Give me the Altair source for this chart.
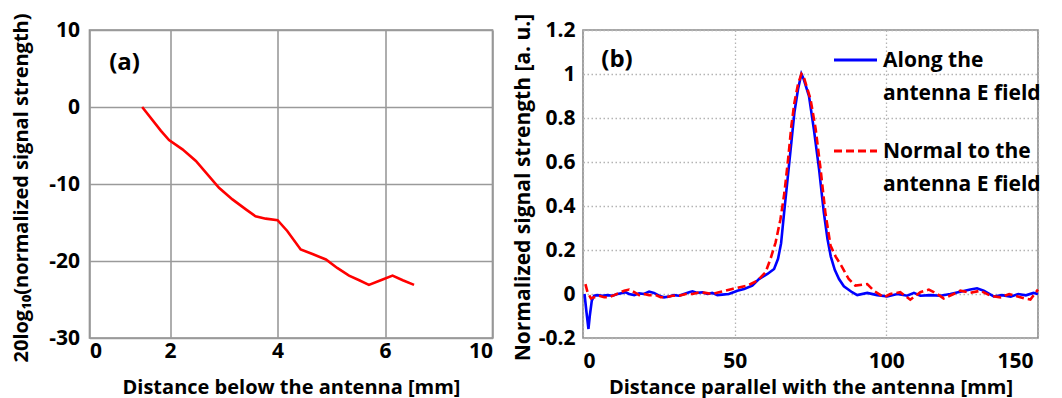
import altair as alt
import pandas as pd

FONT = "Open Sans"

# ---------------- Panel (a) data ----------------
dist_a = [1.48, 1.83, 1.98, 2.23, 2.48, 2.91, 3.16, 3.41, 3.59, 3.78, 4.0, 4.18,
          4.43, 4.65, 4.90, 5.11, 5.33, 5.52, 5.70, 5.92, 6.14, 6.33, 6.54]
db_a = [0.0, -3.1, -4.3, -5.5, -7.0, -10.5, -12.0, -13.3, -14.2, -14.5, -14.7, -16.1,
        -18.5, -19.1, -19.8, -20.9, -21.9, -22.5, -23.1, -22.5, -21.9, -22.5, -23.1]
a_xtick_vals = [0.5, 2, 4, 6, 8]
a_xtick_labels = ["0", "2", "4", "6", "10"]
a_ytick_vals = [-30, -20, -10, 0, 10]

# ---------------- Panel (b) data ----------------
x_along = [0.5, 1.15, 1.8, 2.25, 2.9, 3.7, 4.8, 6.4, 8.1, 9.7, 11.4, 13.0, 14.1, 15.2,
           16.9, 18.5, 20.1, 21.8, 23.4, 25.1, 26.7, 28.4, 30.0, 31.7, 33.3, 35.0, 36.1,
           37.7, 39.4, 41.0, 42.6, 44.3, 45.9, 48.1, 50.9, 53.1, 55.8, 58.0, 60.8, 63.0,
           64.3, 65.3, 66.3, 67.5, 68.7, 69.7, 70.9, 72.0, 72.8, 74.5, 76.1, 77.8, 79.4,
           80.6, 81.7, 83.0, 84.4, 86.0, 88.7, 90.4, 93.7, 97.0, 100.3, 103.6, 106.9, 109.1,
           111.2, 114.5, 117.8, 121.1, 124.4, 127.7, 129.9, 132.1, 135.4, 138.1, 141.0,
           143.5, 146.0, 148.5, 150.0]
y_along = [0.0, -0.083, -0.159, -0.098, -0.03, -0.008, -0.005, -0.008, -0.005, -0.008,
           0.0, 0.005, 0.008, 0.0, -0.005, 0.003, 0.0, 0.011, 0.005, -0.008, -0.015,
           -0.011, -0.005, -0.008, 0.0, 0.008, 0.012, 0.005, 0.008, 0.0, 0.005, -0.005,
           -0.003, 0.0, 0.015, 0.023, 0.038, 0.068, 0.091, 0.114, 0.16, 0.23, 0.37,
           0.53, 0.69, 0.826, 0.932, 1.0, 0.975, 0.90, 0.75, 0.57, 0.37, 0.25, 0.17,
           0.11, 0.068, 0.035, 0.008, -0.005, 0.005, -0.005, -0.011, 0.0, -0.008, 0.005,
           -0.008, -0.005, -0.008, 0.0, 0.01, 0.02, 0.026, 0.015, -0.011, -0.005, -0.012,
           0.0, -0.006, 0.005, 0.0]

x_normal = [0.8, 1.5, 2.6, 3.7, 5.3, 7.0, 8.6, 10.3, 11.9, 13.6, 15.2, 16.9, 18.5, 20.1,
            21.8, 24.0, 25.6, 27.3, 29.5, 31.7, 33.9, 36.1, 38.3, 40.4, 42.6, 44.8, 47.0,
            49.2, 51.4, 54.2, 57.5, 60.2, 61.8, 63.5, 65.1, 66.4, 67.6, 68.7, 69.7, 70.9,
            72.0, 72.8, 75.0, 76.7, 78.3, 79.9, 81.6, 83.3, 85.1, 87.6, 89.8, 93.7, 95.9,
            99.2, 101.3, 104.6, 107.9, 111.2, 114.0, 116.2, 118.9, 122.2, 124.4, 127.7,
            131.0, 134.3, 137.6, 140.5, 143.0, 145.5, 147.5, 150.0]
y_normal = [0.045, 0.008, -0.02, -0.015, -0.008, -0.015, -0.015, -0.005, 0.005, 0.015,
            0.02, 0.008, -0.005, 0.0, -0.005, -0.005, -0.015, -0.015, -0.008, -0.008,
            0.0, 0.0, 0.008, 0.005, 0.0, 0.008, 0.015, 0.023, 0.03, 0.038, 0.061, 0.099,
            0.159, 0.235, 0.34, 0.46, 0.61, 0.765, 0.87, 0.955, 1.0, 0.985, 0.886, 0.75,
            0.57, 0.37, 0.22, 0.17, 0.13, 0.068, 0.038, 0.045, 0.015, -0.015, 0.0,
            0.008, -0.026, 0.008, 0.02, 0.005, -0.02, 0.0, 0.015, 0.005, 0.015, -0.008,
            -0.015, 0.0, -0.01, -0.02, -0.025, 0.02]

b_xtick_vals = [0, 50, 100, 150]
b_ytick_vals = [-0.2, 0, 0.2, 0.4, 0.6, 0.8, 1.0, 1.2]
legend_labels = [["Along the", "antenna E field"], ["Normal to the", "antenna E field"]]

W_A, W_B, H = 403, 455, 308


def label_expr(vals, labels):
    parts = " : ".join(f"datum.value == {v} ? '{l}'" for v, l in zip(vals, labels))
    return parts + " : datum.label"


MINUS_FIX = "replace(format(datum.value, '~g'), '\u2212', '-')"
txt = dict(font=FONT, fontWeight="bold", color="black")

# ---------------- Panel (a) ----------------
df_a = pd.DataFrame({"d": dist_a, "v": db_a})
grid_a = dict(grid=True, gridColor="#9a9a9a", gridWidth=1.6, domain=False, ticks=False)

line_a = alt.Chart(df_a).mark_line(color="#ff0000", strokeWidth=2.6).encode(
    x=alt.X("d:Q", scale=alt.Scale(domain=[0.5, 8], nice=False, zero=False),
            axis=alt.Axis(values=a_xtick_vals,
                          labelExpr=label_expr(a_xtick_vals, a_xtick_labels),
                          title="Distance below the antenna [mm]",
                          titleFontSize=20, titleBaseline="middle", titleY=49.5,
                          labelPadding=2, **grid_a)),
    y=alt.Y("v:Q", scale=alt.Scale(domain=[-30, 10], nice=False),
            axis=alt.Axis(values=a_ytick_vals, labelExpr=MINUS_FIX,
                          title="20log\u2081\u2080(normalized signal strength)",
                          titleFontSize=20, titleBaseline="middle", titleX=-68.5,
                          titleY=157.5, labelPadding=10, **grid_a)),
)
tag_a = alt.Chart(pd.DataFrame({"t": ["(a)"]})).mark_text(
    fontSize=24, align="center", baseline="middle", **txt
).encode(text="t:N", x=alt.value(35), y=alt.value(33))

panel_a = alt.layer(line_a, tag_a).properties(width=W_A, height=H)

# ---------------- Panel (b) ----------------
df_along = pd.DataFrame({"x": x_along, "y": y_along})
df_normal = pd.DataFrame({"x": x_normal, "y": y_normal})
grid_b = dict(grid=True, gridColor="#b4b4b4", gridWidth=1.3, gridDash=[1.5, 2.5],
              domain=False, ticks=False)

xb = alt.X("x:Q", scale=alt.Scale(domain=[0, 150], nice=False),
           axis=alt.Axis(values=b_xtick_vals, title="Distance parallel  with the antenna [mm]",
                         titleFontSize=20, titleBaseline="middle", titleY=49.5,
                         labelPadding=12,
                         labelOffset={"condition": {"test": "datum.value == 150", "value": -5},
                                      "value": 0},
                         **grid_b))
yb = alt.Y("y:Q", scale=alt.Scale(domain=[-0.2, 1.2], nice=False),
           axis=alt.Axis(values=b_ytick_vals, labelExpr=MINUS_FIX,
                         title="Normalized  signal strength [a. u.]",
                         titleFontSize=21, titleBaseline="middle", titleX=-60,
                         titleY=157, labelPadding=8, **grid_b))

line_along = alt.Chart(df_along).mark_line(color="#0000ff", strokeWidth=2.6).encode(x=xb, y=yb)
line_normal = alt.Chart(df_normal).mark_line(
    color="#ff0000", strokeWidth=2.6, strokeDash=[8, 4]).encode(x=xb, y=yb)

tag_b = alt.Chart(pd.DataFrame({"t": ["(b)"]})).mark_text(
    fontSize=24, align="center", baseline="middle", **txt
).encode(text="t:N", x=alt.value(34), y=alt.value(30))

one = pd.DataFrame({"k": [0]})
leg_blue = alt.Chart(one).mark_rule(color="#0000ff", strokeWidth=3).encode(
    x=alt.value(251), x2=alt.value(294), y=alt.value(30))
leg_red = alt.Chart(one).mark_rule(color="#ff0000", strokeWidth=3, strokeDash=[8, 4]).encode(
    x=alt.value(251), x2=alt.value(294), y=alt.value(121))

leg_texts = []
for lines, y0 in zip(legend_labels, [31, 122]):
    for j, s in enumerate(lines):
        leg_texts.append(
            alt.Chart(pd.DataFrame({"t": [s]})).mark_text(
                fontSize=21, align="left", baseline="middle", **txt
            ).encode(text="t:N", x=alt.value(300), y=alt.value(y0 + 33 * j))
        )

panel_b = alt.layer(line_along, line_normal, tag_b, leg_blue, leg_red, *leg_texts).properties(
    width=W_B, height=H)

chart = alt.hconcat(panel_a, panel_b, spacing=17.5).properties(
    padding={"left": 1.5, "top": 1, "right": 0, "bottom": 0}
).configure_axis(
    labelFont=FONT, labelFontSize=21, labelFontWeight="bold", labelColor="black",
    titleFont=FONT, titleFontWeight="bold", titleColor="black",
).configure_view(stroke="#8a8a8a", strokeWidth=1.6)

chart.save("out.html", embed_options={"renderer": "svg", "actions": False})
